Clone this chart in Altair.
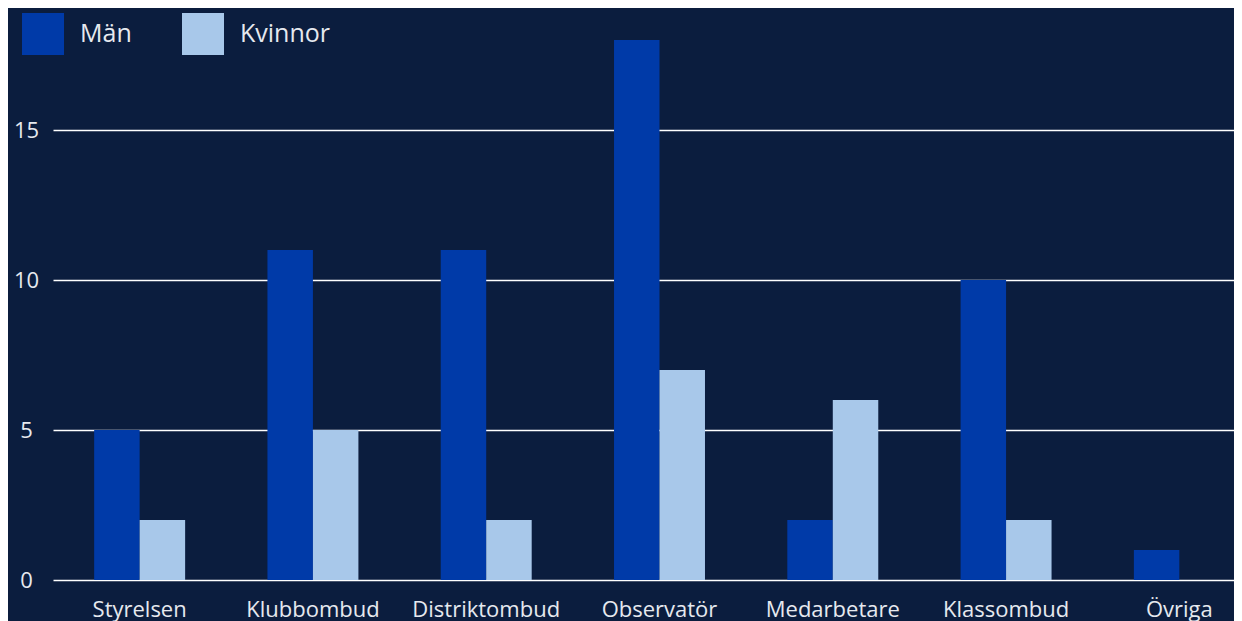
import altair as alt
import pandas as pd

categories = ["Styrelsen", "Klubbombud", "Distriktombud", "Observatör", "Medarbetare", "Klassombud", "Övriga"]
man = [5, 11, 11, 18, 2, 10, 1]
kvinnor = [2, 5, 2, 7, 6, 2, 0]
series = ["Män", "Kvinnor"]
colors = ["#003aa8", "#a8c8ea"]
y_ticks = [0, 5, 10, 15]

rows = []
for c, m, k in zip(categories, man, kvinnor):
    rows.append({"kategori": c, "kon": "Män", "antal": m})
    rows.append({"kategori": c, "kon": "Kvinnor", "antal": k})
df = pd.DataFrame(rows)

FONT = "Open Sans"
TXT = "#e6e9ef"
BG = "#0b1d3e"

chart = alt.Chart(df).mark_bar().encode(
    x=alt.X("kategori:N", sort=categories,
            scale=alt.Scale(range=[0, 1213], paddingInner=0.475, paddingOuter=0.2375),
            axis=alt.Axis(title=None, labelAngle=0, ticks=False, domain=False, grid=False,
                          labelFontSize=22, labelColor=TXT, labelFont=FONT, labelPadding=19)),
    xOffset=alt.XOffset("kon:N", sort=series, scale=alt.Scale(paddingInner=0, paddingOuter=0)),
    y=alt.Y("antal:Q", scale=alt.Scale(domain=[0, 19.0667], nice=False, zero=True),
            axis=alt.Axis(title=None, values=y_ticks, ticks=False, tickSize=0, domain=False,
                          grid=True, gridColor="#ffffff", gridWidth=1.3,
                          labelAlign="center", labelPadding=27,
                          labelFontSize=22, labelColor=TXT, labelFont=FONT)),
    color=alt.Color("kon:N", sort=series,
                    scale=alt.Scale(domain=series, range=colors),
                    legend=alt.Legend(title=None, orient="none", legendX=-31, legendY=5,
                                      direction="horizontal", symbolType="square",
                                      symbolSize=1764, symbolStrokeWidth=0, symbolOpacity=1,
                                      labelFontSize=25, labelColor=TXT, labelFont=FONT,
                                      labelOffset=16, columnPadding=50, padding=0)),
).properties(
    width=1181, height=572,
    autosize=alt.AutoSizeParams(type="none"),
    padding={"left": 45, "top": 0, "right": 0, "bottom": 50},
).configure(background=BG).configure_view(stroke=None)

chart.save("out.html", embed_options={"renderer": "svg", "actions": False})
